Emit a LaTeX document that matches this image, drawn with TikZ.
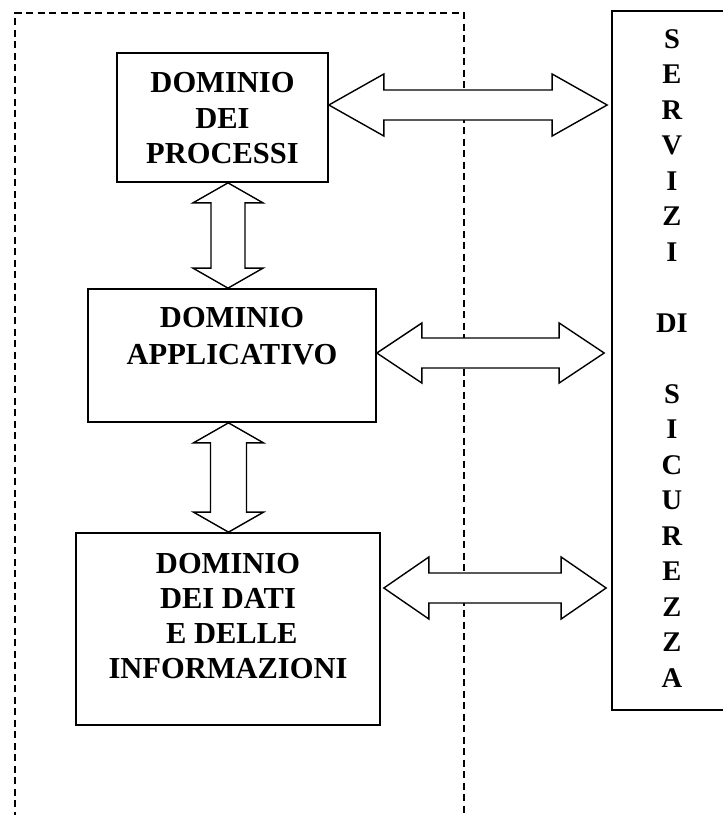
\documentclass[tikz,border=0pt]{standalone}
\usepackage{fontspec}
\setmainfont{Liberation Serif}
\usetikzlibrary{calc}

% block-shaped double arrows: tips #1 and #2, head length #3, head half-width #4, shaft half-width #5
\newcommand\hblockarrow[5]{%
  \draw[blockarrow] (#1) -- ($(#1)+(#3,-#4)$) -- ($(#1)+(#3,-#5)$) -- ($(#2)+(-#3,-#5)$)
    -- ($(#2)+(-#3,-#4)$) -- (#2) -- ($(#2)+(-#3,#4)$) -- ($(#2)+(-#3,#5)$)
    -- ($(#1)+(#3,#5)$) -- ($(#1)+(#3,#4)$) -- cycle;}
\newcommand\vblockarrow[5]{%
  \draw[blockarrow] (#1) -- ($(#1)+(-#4,#3)$) -- ($(#1)+(-#5,#3)$) -- ($(#2)+(-#5,-#3)$)
    -- ($(#2)+(-#4,-#3)$) -- (#2) -- ($(#2)+(#4,-#3)$) -- ($(#2)+(#5,-#3)$)
    -- ($(#1)+(#5,#3)$) -- ($(#1)+(#4,#3)$) -- cycle;}

\tikzset{
  domainbox/.style={draw, line width=1.7pt, fill=white, inner sep=0pt,
    font=\bfseries\fontsize{30.5pt}{35.5pt}\selectfont},
  zone/.style={draw, line width=2.6pt, dash pattern=on 7pt off 4.5pt},
  blockarrow/.style={draw, line width=1.4pt, fill=white, line join=miter},
}

\begin{document}
\begin{tikzpicture}[x=1pt, y=-1pt]
\useasboundingbox (0,0) rectangle (723,815);
\clip (0,0) rectangle (723,815);

% dashed zone of the domains, open at the bottom
\draw[zone] (15,830) -- (15,13) -- (464,13) -- (464,830);

% domain boxes
\node[domainbox, minimum width=211pt, minimum height=129pt,
      text height=22pt, text depth=71.6pt] (p1) at (222.5,117.5)
  {\parbox[t]{200pt}{\centering DOMINIO\\DEI\\PROCESSI}};
\node[domainbox, minimum width=288pt, minimum height=133pt,
      text height=22pt, text depth=77.6pt] (p2) at (232,355.5)
  {\parbox[t]{280pt}{\centering\baselineskip=37pt DOMINIO\\APPLICATIVO}};
\node[domainbox, minimum width=304pt, minimum height=192pt,
      text height=22pt, text depth=133.4pt] (p3) at (228,629)
  {\parbox[t]{290pt}{\centering\baselineskip=35pt DOMINIO\\DEI DATI\\\ E DELLE\\INFORMAZIONI}};

% security services column
\node[domainbox, minimum width=120pt, minimum height=699pt,
      text height=22pt, text depth=647pt,
      font=\bfseries\fontsize{28.5pt}{35.5pt}\selectfont] (sv) at (672,360.5)
  {\parbox[t]{100pt}{\centering S\\E\\R\\V\\I\\Z\\I\\[35.5pt]DI\\[35.5pt]S\\I\\C\\U\\R\\E\\Z\\Z\\A}};

% arrow end points
\coordinate (a1w) at (p1.east |- 0,105);
\coordinate (a1e) at ($(sv.west |- 0,105)+(-4,0)$);
\coordinate (a2w) at (p2.east |- 0,353);
\coordinate (a2e) at ($(sv.west |- 0,353)+(-7,0)$);
\coordinate (a3w) at ($(p3.east |- 0,588)+(3,0)$);
\coordinate (a3e) at ($(sv.west |- 0,588)+(-5,0)$);
\coordinate (v1n) at (p1.south -| 228,0);
\coordinate (v1s) at (p2.north -| 228,0);
\coordinate (v2n) at (p2.south -| 228.5,0);
\coordinate (v2s) at (p3.north -| 228.5,0);

% double arrows
\hblockarrow{a1w}{a1e}{55}{31}{15}
\hblockarrow{a2w}{a2e}{45}{30}{15}
\hblockarrow{a3w}{a3e}{45}{31}{15}
\vblockarrow{v1n}{v1s}{20}{35}{17}
\vblockarrow{v2n}{v2s}{20}{35}{18}
\end{tikzpicture}
\end{document}
